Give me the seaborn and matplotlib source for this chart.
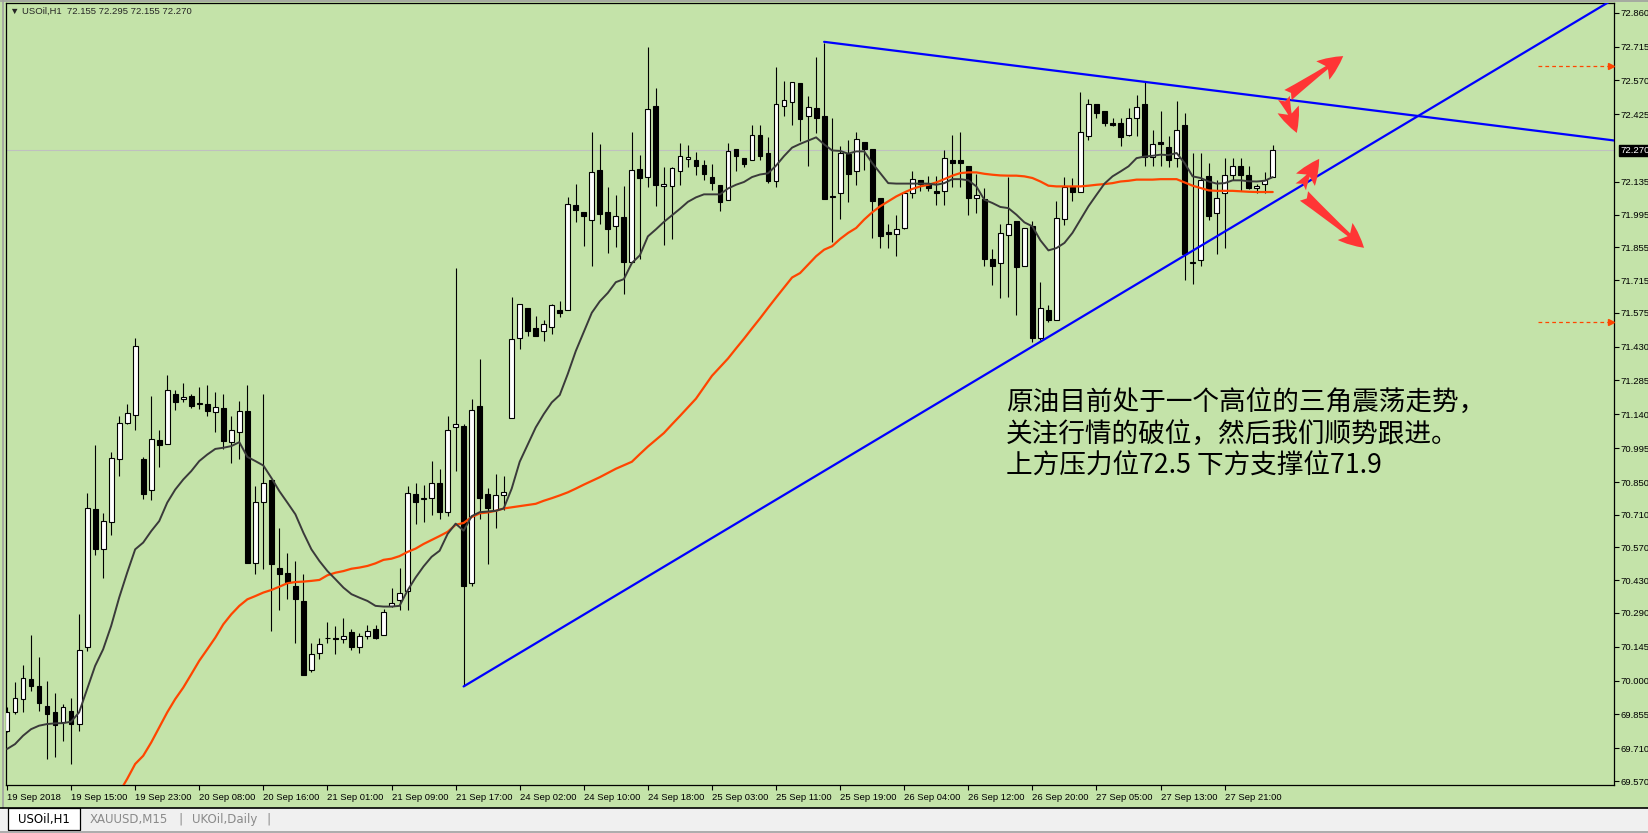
import numpy as np
import pandas as pd
import matplotlib
matplotlib.use('Agg')
import matplotlib.pyplot as plt
import seaborn as sns
from matplotlib import font_manager
from matplotlib.patches import Rectangle
from matplotlib.lines import Line2D

# ---- data (USOil H1, bar 0 = 19 Sep 2018 07:00) ----
time_labels = ['19 Sep 2018', '19 Sep 15:00', '19 Sep 23:00', '20 Sep 08:00', '20 Sep 16:00',
               '21 Sep 01:00', '21 Sep 09:00', '21 Sep 17:00', '24 Sep 02:00', '24 Sep 10:00',
               '24 Sep 18:00', '25 Sep 03:00', '25 Sep 11:00', '25 Sep 19:00', '26 Sep 04:00',
               '26 Sep 12:00', '26 Sep 20:00', '27 Sep 05:00', '27 Sep 13:00', '27 Sep 21:00']
price_ticks = [72.860, 72.715, 72.570, 72.425, 72.135, 71.995, 71.855, 71.715, 71.575, 71.430,
               71.285, 71.140, 70.995, 70.850, 70.710, 70.570, 70.430, 70.290, 70.145, 70.000,
               69.855, 69.710, 69.570]
last_price = 72.270
header = '\u25bc USOil,H1  72.155 72.295 72.155 72.270'
tabs = ['USOil,H1', 'XAUUSD,M15', 'UKOil,Daily']

opens = [69.785, 69.864, 69.921, 70.009, 69.975, 69.892, 69.864, 69.821, 69.871, 69.814,
         70.146, 70.733, 70.565, 70.680, 70.950, 71.104, 71.139, 70.947, 70.814, 71.032,
         71.014, 71.228, 71.206, 71.218, 71.186, 71.186, 71.149, 71.168, 71.021, 71.064,
         71.156, 70.502, 70.766, 70.858, 70.484, 70.462, 70.405, 70.341, 70.045, 70.117,
         70.181, 70.184, 70.177, 70.206, 70.146, 70.191, 70.223, 70.194, 70.320, 70.345,
         70.384, 70.797, 70.776, 70.783, 70.844, 70.722, 71.084, 71.092, 70.417, 71.174,
         70.798, 70.732, 70.796, 71.125, 71.469, 71.595, 71.510, 71.497, 71.513, 71.588,
         71.587, 72.037, 72.007, 71.971, 72.187, 72.007, 71.948, 71.984, 71.791, 72.192,
         72.156, 72.459, 72.118, 72.118, 72.184, 72.233, 72.230, 72.208, 72.156, 72.123,
         72.058, 72.275, 72.238, 72.230, 72.336, 72.259, 72.140, 72.462, 72.478, 72.557,
         72.418, 72.451, 72.418, 72.069, 72.088, 72.256, 72.180, 72.304, 72.277, 72.066,
         71.920, 71.914, 71.937, 72.088, 72.145, 72.128, 72.095, 72.095, 72.230, 72.230,
         72.204, 72.066, 72.062, 71.805, 71.788, 71.908, 71.969, 71.774, 71.947, 71.467,
         71.588, 71.543, 71.976, 72.113, 72.094, 72.333, 72.470, 72.441, 72.387, 72.387,
         72.337, 72.408, 72.470, 72.244, 72.304, 72.284, 72.237, 72.380, 71.788, 71.800,
         72.159, 72.000, 72.088, 72.166, 72.205, 72.166, 72.109, 72.128, 72.155]
highs = [69.885, 69.992, 70.066, 70.194, 70.103, 70.000, 69.946, 69.899, 69.924, 70.284,
         70.804, 71.007, 70.719, 70.978, 71.135, 71.186, 71.467, 70.958, 71.218, 71.075,
         71.310, 71.246, 71.275, 71.229, 71.257, 71.267, 71.235, 71.229, 71.135, 71.196,
         71.267, 70.833, 71.229, 70.858, 70.655, 70.545, 70.512, 70.455, 70.163, 70.184,
         70.251, 70.234, 70.266, 70.220, 70.203, 70.237, 70.237, 70.305, 70.398, 70.484,
         70.833, 70.844, 70.836, 70.940, 70.907, 71.135, 71.768, 71.100, 71.207, 71.379,
         70.826, 70.884, 70.875, 71.641, 71.611, 71.595, 71.559, 71.542, 71.611, 71.627,
         72.069, 72.128, 72.007, 72.347, 72.298, 72.112, 72.079, 72.118, 72.347, 72.249,
         72.711, 72.536, 72.200, 72.200, 72.303, 72.295, 72.262, 72.230, 72.213, 72.123,
         72.303, 72.275, 72.238, 72.380, 72.380, 72.328, 72.626, 72.568, 72.565, 72.557,
         72.501, 72.669, 72.732, 72.408, 72.287, 72.316, 72.351, 72.304, 72.277, 72.066,
         71.955, 71.995, 72.088, 72.180, 72.145, 72.159, 72.159, 72.273, 72.337, 72.351,
         72.204, 72.170, 72.109, 71.848, 71.956, 72.156, 71.969, 71.937, 71.970, 71.707,
         71.610, 72.052, 72.156, 72.151, 72.522, 72.490, 72.470, 72.441, 72.408, 72.408,
         72.451, 72.508, 72.561, 72.358, 72.441, 72.330, 72.480, 72.430, 72.259, 72.259,
         72.216, 72.145, 72.237, 72.237, 72.237, 72.205, 72.128, 72.176, 72.295]
lows = [69.781, 69.857, 69.864, 69.956, 69.871, 69.664, 69.671, 69.740, 69.643, 69.785,
        70.127, 70.536, 70.441, 70.622, 70.876, 71.097, 71.072, 70.779, 70.773, 70.915,
        71.014, 71.158, 71.192, 71.166, 71.163, 71.132, 71.064, 70.990, 70.933, 70.947,
        70.505, 70.455, 70.476, 70.213, 70.303, 70.351, 70.163, 70.023, 70.035, 70.091,
        70.163, 70.113, 70.163, 70.131, 70.120, 70.177, 70.177, 70.194, 70.317, 70.303,
        70.303, 70.669, 70.679, 70.707, 70.693, 70.705, 70.896, 69.975, 70.405, 70.691,
        70.498, 70.655, 70.732, 71.125, 71.420, 71.477, 71.477, 71.452, 71.485, 71.555,
        71.587, 71.965, 71.861, 71.775, 71.955, 71.829, 71.857, 71.657, 71.791, 71.807,
        72.115, 72.030, 71.866, 71.889, 72.123, 72.200, 72.164, 72.145, 72.099, 72.009,
        72.058, 72.184, 72.200, 72.230, 72.230, 72.131, 72.115, 72.418, 72.380, 72.311,
        72.202, 72.344, 72.062, 71.877, 71.976, 72.048, 72.123, 72.185, 71.895, 71.852,
        71.852, 71.817, 71.935, 72.066, 72.095, 72.095, 72.038, 72.038, 72.113, 72.113,
        71.995, 72.002, 71.774, 71.695, 71.638, 71.643, 71.564, 71.774, 71.449, 71.460,
        71.534, 71.543, 71.952, 72.052, 72.094, 72.316, 72.408, 72.373, 72.373, 72.290,
        72.333, 72.333, 72.202, 72.205, 72.205, 72.199, 72.199, 71.714, 71.696, 71.774,
        71.974, 71.828, 71.852, 72.145, 72.095, 72.105, 72.088, 72.088, 72.155]
closes = [69.864, 69.924, 70.013, 69.975, 69.903, 69.856, 69.809, 69.885, 69.814, 70.131,
          70.740, 70.565, 70.683, 70.954, 71.104, 71.146, 71.431, 70.800, 71.035, 71.010,
          71.243, 71.192, 71.215, 71.175, 71.187, 71.153, 71.172, 71.025, 71.072, 71.153,
          70.505, 70.766, 70.844, 70.498, 70.455, 70.422, 70.351, 70.023, 70.116, 70.156,
          70.181, 70.177, 70.191, 70.146, 70.191, 70.213, 70.184, 70.294, 70.334, 70.373,
          70.804, 70.764, 70.783, 70.844, 70.722, 71.072, 71.097, 70.405, 71.158, 70.781,
          70.737, 70.795, 70.806, 71.461, 71.611, 71.497, 71.477, 71.529, 71.608, 71.572,
          72.041, 72.014, 71.988, 72.177, 71.997, 71.935, 71.989, 71.791, 72.185, 72.154,
          72.447, 72.123, 72.126, 72.194, 72.246, 72.241, 72.205, 72.169, 72.131, 72.050,
          72.266, 72.246, 72.213, 72.336, 72.246, 72.140, 72.467, 72.488, 72.565, 72.406,
          72.455, 72.408, 72.062, 72.077, 72.259, 72.170, 72.319, 72.276, 72.052, 71.905,
          71.912, 71.934, 72.088, 72.148, 72.128, 72.109, 72.088, 72.237, 72.216, 72.216,
          72.066, 72.080, 71.805, 71.774, 71.916, 71.956, 71.771, 71.937, 71.467, 71.595,
          71.543, 71.980, 72.113, 72.094, 72.348, 72.470, 72.430, 72.387, 72.380, 72.327,
          72.408, 72.458, 72.241, 72.297, 72.297, 72.227, 72.358, 71.828, 71.792, 72.145,
          71.988, 72.066, 72.166, 72.205, 72.166, 72.109, 72.119, 72.145, 72.270]

# fast moving average (dark line), one value per bar
ma_fast = [69.707, 69.728, 69.764, 69.792, 69.807, 69.814, 69.817, 69.818, 69.824, 69.864,
           69.963, 70.063, 70.134, 70.234, 70.355, 70.462, 70.562, 70.591, 70.640, 70.683,
           70.762, 70.818, 70.861, 70.897, 70.940, 70.968, 70.992, 70.997, 71.004, 71.021,
           70.958, 70.940, 70.921, 70.868, 70.811, 70.762, 70.712, 70.633, 70.562, 70.512,
           70.469, 70.434, 70.398, 70.370, 70.355, 70.341, 70.320, 70.317, 70.317, 70.320,
           70.386, 70.441, 70.489, 70.530, 70.556, 70.628, 70.672, 70.642, 70.704, 70.721,
           70.724, 70.727, 70.737, 70.822, 70.937, 71.011, 71.084, 71.141, 71.191, 71.223,
           71.313, 71.411, 71.493, 71.575, 71.624, 71.660, 71.706, 71.719, 71.788, 71.821,
           71.902, 71.932, 71.964, 71.992, 72.020, 72.050, 72.069, 72.082, 72.082, 72.082,
           72.107, 72.123, 72.135, 72.156, 72.167, 72.172, 72.205, 72.246, 72.282, 72.298,
           72.312, 72.326, 72.296, 72.270, 72.268, 72.256, 72.266, 72.266, 72.216, 72.173,
           72.130, 72.128, 72.128, 72.128, 72.128, 72.128, 72.123, 72.130, 72.147, 72.147,
           72.142, 72.116, 72.059, 72.045, 72.028, 72.023, 71.995, 71.962, 71.945, 71.885,
           71.842, 71.852, 71.874, 71.917, 71.974, 72.031, 72.080, 72.128, 72.159, 72.180,
           72.202, 72.237, 72.244, 72.247, 72.252, 72.250, 72.259, 72.216, 72.159, 72.152,
           72.137, 72.128, 72.130, 72.142, 72.142, 72.138, 72.137, 72.140, 72.156]

# slow moving average (orange line), starts at bar 14 (below the window before)
ma_slow_start = 14
ma_slow = [69.520, 69.579, 69.643, 69.678, 69.735, 69.800, 69.864, 69.921, 69.970, 70.027,
           70.085, 70.134, 70.184, 70.241, 70.284, 70.320, 70.348, 70.362, 70.377, 70.388,
           70.402, 70.417, 70.422, 70.424, 70.427, 70.431, 70.451, 70.462, 70.469, 70.479,
           70.484, 70.491, 70.502, 70.517, 70.522, 70.533, 70.551, 70.565, 70.585, 70.602,
           70.619, 70.637, 70.667, 70.675, 70.700, 70.716, 70.720, 70.727, 70.737, 70.742,
           70.747, 70.752, 70.757, 70.770, 70.781, 70.793, 70.806, 70.822, 70.839, 70.855,
           70.871, 70.889, 70.907, 70.922, 70.937, 70.970, 71.002, 71.031, 71.060, 71.097,
           71.133, 71.170, 71.207, 71.256, 71.305, 71.342, 71.379, 71.422, 71.464, 71.508,
           71.551, 71.596, 71.640, 71.683, 71.726, 71.745, 71.781, 71.817, 71.845, 71.860,
           71.891, 71.917, 71.938, 71.974, 72.005, 72.031, 72.052, 72.073, 72.090, 72.105,
           72.116, 72.123, 72.133, 72.147, 72.162, 72.173, 72.176, 72.176, 72.170, 72.166,
           72.163, 72.162, 72.162, 72.159, 72.152, 72.137, 72.119, 72.116, 72.116, 72.116,
           72.116, 72.119, 72.123, 72.126, 72.130, 72.137, 72.140, 72.145, 72.145, 72.145,
           72.147, 72.147, 72.147, 72.133, 72.119, 72.109, 72.099, 72.097, 72.097, 72.097,
           72.095, 72.093, 72.092, 72.092, 72.092]

# trend lines (bar index, price)
upper_line_x = [102, 201]
upper_line_y = [72.735, 72.311]
lower_line_x = [57, 201]
lower_line_y = [69.975, 72.927]

# red arrows: (tail bar, tail price, head bar, head price)
arrows = [(159.9, 72.507, 166.8, 72.674),
          (159.4, 72.495, 161.0, 72.345),
          (161.5, 72.114, 163.8, 72.234),
          (161.9, 72.075, 169.4, 71.853)]

# dashed price markers at the right edge
right_marks = [72.632, 71.534]
right_mark_span = [191.1, 200.2]

note = ('原油目前处于一个高位的三角震荡走势，\n'
        '关注行情的破位，然后我们顺势跟进。\n'
        '上方压力位72.5 下方支撑位71.9')

# ---- style ----
bg = '#c4e3a9'
sns.set_theme(style='ticks', rc={'axes.facecolor': bg, 'figure.facecolor': bg})
avail = {f.name for f in font_manager.fontManager.ttflist}
ui_font = next(f for f in ['Liberation Sans Narrow', 'Liberation Sans', 'DejaVu Sans'] if f in avail)
plt.rcParams['font.family'] = [ui_font, 'DejaVu Sans']
cjk = ['Noto Sans CJK SC', 'DejaVu Sans']

W, H = 1648, 833
fig = plt.figure(figsize=(W / 100, H / 100), dpi=100, facecolor=bg)
ax = fig.add_axes([6 / W, 48 / H, 1608 / W, 781.7 / H])
ax.set_facecolor(bg)

df = pd.DataFrame({'open': opens, 'high': highs, 'low': lows, 'close': closes})
df['bar'] = np.arange(len(df))
up = df['close'] >= df['open']
body_low = df[['open', 'close']].min(axis=1)
body_h = (df['close'] - df['open']).abs()

ax.vlines(df['bar'], df['low'], df['high'], color='black', lw=0.8, zorder=2)
ax.bar(df['bar'][up], body_h[up], bottom=body_low[up], width=0.6,
       color='white', edgecolor='black', linewidth=0.8, zorder=3)
ax.bar(df['bar'][~up], body_h[~up], bottom=body_low[~up], width=0.6,
       color='black', edgecolor='black', linewidth=0.8, zorder=3)

sns.lineplot(x=np.arange(len(ma_slow)) + ma_slow_start, y=ma_slow, ax=ax,
             color='#ff4500', lw=1.6, zorder=4, sort=False, estimator=None)
sns.lineplot(x=np.arange(len(ma_fast)), y=ma_fast, ax=ax,
             color='#3a3a3a', lw=1.4, zorder=4, sort=False, estimator=None)

ax.plot(upper_line_x, upper_line_y, color='#0000ff', lw=1.6, zorder=5)
ax.plot(lower_line_x, lower_line_y, color='#0000ff', lw=1.6, zorder=5)

ax.axhline(last_price, color='#c0c0c0', lw=0.8, zorder=1)

for x0, y0, x1, y1 in arrows:
    ax.annotate('', xy=(x1, y1), xytext=(x0, y0),
                arrowprops=dict(arrowstyle='fancy,head_length=1.0,head_width=0.9,tail_width=0.5',
                                color='#ff3535', lw=0, shrinkA=0, shrinkB=0, mutation_scale=18),
                zorder=6)

for y in right_marks:
    ax.plot(right_mark_span, [y, y], color='#ff4500', lw=0.9, ls=(0, (3, 2.5)), zorder=5)
    ax.plot(right_mark_span[1], y, marker='>', ms=4, color='#ff4500', zorder=5)

ax.text(124.7, 71.245, note, fontsize=19.2, family=cjk, ha='left', va='top',
        linespacing=1.22, color='black', zorder=7)

# axes / ticks
ax.set_xlim(-0.125, 200.6)
ax.set_ylim(69.553, 72.900)
ax.set_xticks(np.arange(len(time_labels)) * 8)
ax.set_xticklabels(time_labels, ha='left')
ax.set_yticks(price_ticks)
ax.set_yticklabels([f'{v:.3f}' for v in price_ticks])
ax.yaxis.tick_right()
ax.tick_params(axis='both', direction='out', length=3.5, width=0.8, color='black',
               labelsize=6.8, labelcolor='black')
ax.tick_params(axis='y', pad=1.5)
ax.tick_params(axis='x', pad=2)
for s in ax.spines.values():
    s.set_visible(True)
    s.set_color('black')
    s.set_linewidth(0.9)

ax.annotate(f'{last_price:.3f}', xy=(1, last_price), xycoords=('axes fraction', 'data'),
            xytext=(4.5, 0), textcoords='offset points', va='center', ha='left',
            fontsize=6.8, color='white',
            bbox=dict(boxstyle='square,pad=0.15', fc='black', ec='black'))

# header inside the chart
fig.text(10.5 / W, 1 - 11.7 / H, header, fontsize=6.8, va='center', ha='left',
         family=[ui_font, 'DejaVu Sans'])

# window borders and bottom tab bar
fig.add_artist(Line2D([3 / W, 3 / W], [25 / H, 1], color='#a0a0a0', lw=1.2))
fig.add_artist(Line2D([0, 1], [1 - 0.6 / H, 1 - 0.6 / H], color='#a0a0a0', lw=1.2))
fig.patches.append(Rectangle((0, 0), 1, 25 / H, transform=fig.transFigure,
                             facecolor='#f0f0f0', edgecolor='none', zorder=0))
fig.add_artist(Line2D([0, 1], [25 / H, 25 / H], color='black', lw=1.2))
fig.add_artist(Line2D([0, 1], [1.2 / H, 1.2 / H], color='#a0a0a0', lw=1.2))
fig.patches.append(Rectangle((8 / W, 3 / H), 72 / W, 22 / H, transform=fig.transFigure,
                             facecolor='white', edgecolor='black', lw=0.9, zorder=1))
tab_x = [18, 90, 192]
for i, (name, tx) in enumerate(zip(tabs, tab_x)):
    fig.text(tx / W, 14 / H, name, fontsize=8.5, va='center', ha='left',
             color='black' if i == 0 else '#8a8a8a', family='DejaVu Sans')
for sx in [181, 268]:
    fig.text(sx / W, 14 / H, '|', fontsize=9, va='center', ha='center',
             color='#8a8a8a', family='DejaVu Sans')

fig.savefig('out.png', dpi=100, facecolor=bg)
